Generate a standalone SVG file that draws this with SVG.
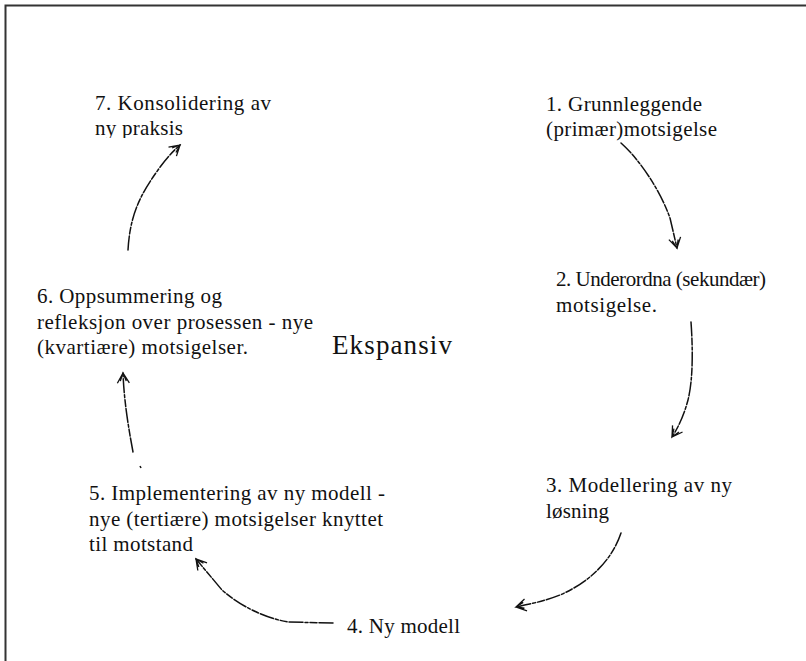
<svg xmlns="http://www.w3.org/2000/svg" width="806" height="661" viewBox="0 0 806 661">
  <style>
    text { font-family: 'Liberation Serif', Tinos, 'Times New Roman', Times, serif; fill: #111; }
    .lbl { font-size: 21px; }
    .big { font-size: 27px; }
    .arc { fill: none; stroke: #111; stroke-width: 1.5; stroke-linecap: round; stroke-dasharray: 14 2 7 2 3 2; marker-end: url(#head); }
  </style>
  <defs>
    <marker id="head" viewBox="-12 -8 14 16" refX="0" refY="0" markerWidth="14" markerHeight="16" markerUnits="userSpaceOnUse" orient="auto">
      <path d="M-10,-6 L0,0 L-10,6 M-8,-3 L0,0 L-8,3" fill="none" stroke="#111" stroke-width="1.3"/>
    </marker>
    <clipPath id="cut7">
      <rect x="90" y="115" width="200" height="23"/>
    </clipPath>
  </defs>

  <rect x="5.5" y="5.5" width="830" height="690" fill="#fff" stroke="#333" stroke-width="2"/>

  <g id="connectors">
    <path class="arc" d="M621,143 C640,160 660,190 670,218 L677,248"/>
    <path class="arc" d="M691,322 C693,350 693,380 688,400 C684,415 678,428 672,437"/>
    <path class="arc" d="M621,533 C612,560 590,582 560,595 C545,601 530,604 516,607"/>
    <path class="arc" d="M333,623 L288,622 C265,618 240,606 222,590 L196,559"/>
    <path class="arc" d="M133,452 C128,425 124,400 123,373"/>
    <path d="M140,466 L141,468" stroke="#111" stroke-width="1.5"/>
    <path class="arc" d="M128,250 C130,215 140,195 158,170 C165,160 172,152 180,145"/>
  </g>

  <g id="node-1">
    <text class="lbl" x="546" y="111" textLength="156" lengthAdjust="spacing">1. Grunnleggende</text>
    <text class="lbl" x="546" y="136" textLength="171" lengthAdjust="spacing">(primær)motsigelse</text>
  </g>
  <g id="node-2">
    <text class="lbl" x="556" y="286" textLength="210" lengthAdjust="spacing">2. Underordna (sekundær)</text>
    <text class="lbl" x="556" y="312" textLength="101" lengthAdjust="spacing">motsigelse.</text>
  </g>
  <g id="node-3">
    <text class="lbl" x="546" y="492" textLength="186" lengthAdjust="spacing">3. Modellering av ny</text>
    <text class="lbl" x="546" y="518" textLength="63" lengthAdjust="spacing">løsning</text>
  </g>
  <g id="node-4">
    <text class="lbl" x="347" y="633" textLength="113" lengthAdjust="spacing">4. Ny modell</text>
  </g>
  <g id="node-5">
    <text class="lbl" x="89" y="500" textLength="296" lengthAdjust="spacing">5. Implementering av ny modell -</text>
    <text class="lbl" x="89" y="526" textLength="294" lengthAdjust="spacing">nye (tertiære) motsigelser knyttet</text>
    <text class="lbl" x="89" y="551" textLength="104" lengthAdjust="spacing">til motstand</text>
  </g>
  <g id="node-6">
    <text class="lbl" x="37" y="303" textLength="185" lengthAdjust="spacing">6. Oppsummering og</text>
    <text class="lbl" x="37" y="329" textLength="276" lengthAdjust="spacing">refleksjon over prosessen - nye</text>
    <text class="lbl" x="37" y="354" textLength="211" lengthAdjust="spacing">(kvartiære) motsigelser.</text>
  </g>
  <g id="node-7">
    <text class="lbl" x="95" y="110" textLength="176" lengthAdjust="spacing">7. Konsolidering av</text>
    <text class="lbl" x="95" y="135" textLength="88" lengthAdjust="spacing" clip-path="url(#cut7)">ny praksis</text>
  </g>
  <g id="center">
    <text class="big" x="332" y="354" textLength="120" lengthAdjust="spacing">Ekspansiv</text>
  </g>
</svg>
